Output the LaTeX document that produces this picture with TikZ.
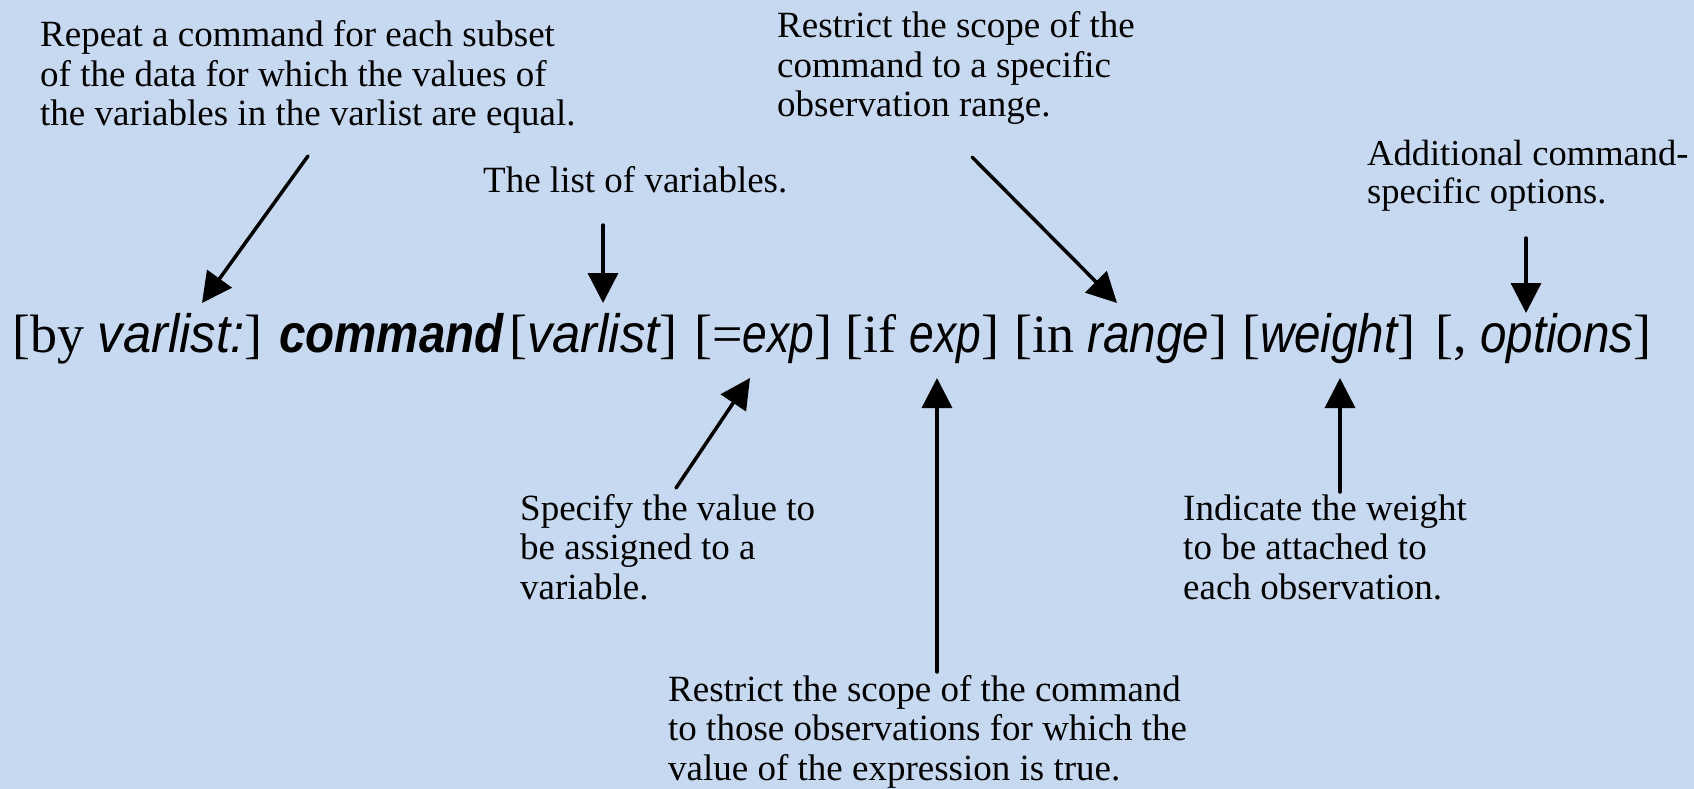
\documentclass[tikz,border=0pt]{standalone}
\usepackage{fontspec}
\setmainfont{Liberation Serif}
% condensed sans faces for the syntax elements
\newfontfamily\sansit{Liberation Sans}[FakeStretch=0.88]
\newfontfamily\sanswide{Liberation Sans}[FakeStretch=0.94]
\newfontfamily\sansnarrow{Liberation Sans}[FakeStretch=0.82]
\usetikzlibrary{arrows.meta}
\definecolor{panel}{RGB}{198,217,241}
\newcommand\synarg[1]{{\sansit\itshape #1}}
\newcommand\synvar[1]{{\sanswide\itshape #1}}
\newcommand\synexp[1]{{\sansnarrow\itshape #1}}
\newcommand\syncmd[1]{{\sansit\bfseries\itshape #1}}
\tikzset{
  % anchored at the baseline of the last line
  note/.style={inner sep=0pt, anchor=base west, align=left,
    font=\fontsize{37}{39.5}\selectfont},
  part/.style={inner sep=0pt, anchor=base west,
    font=\fontsize{54}{60}\selectfont},
  pointer/.style={line width=3.5pt, line cap=round,
    -{Triangle[length=30pt,width=30pt]}},
}
\begin{document}
\begin{tikzpicture}[x=1pt,y=-1pt]
  \fill[panel] (0,0) rectangle (1694,789);
  \useasboundingbox (0,0) rectangle (1694,789);

  % the command syntax line
  \node[part] (s1) at (12,352)   {[by \synvar{varlist:}]};
  \node[part] (s2) at (279,352)  {\syncmd{command}};
  \node[part] (s3) at (509,352)  {[\synvar{varlist}]};
  \node[part] (s4) at (694,352)  {[=\synexp{exp}]};
  \node[part] (s5) at (845,352)  {[if \synexp{exp}]};
  \node[part] (s6) at (1014,352) {[in \synarg{range}]};
  \node[part] (s7) at (1242,352) {[\synarg{weight}]};
  \node[part] (s8) at (1435,352) {[, \synarg{options}]};

  % explanations
  \node[note] (byNote) at (40,126) {Repeat a command for each subset\\of the data for which the values of\\the variables in the varlist are equal.};
  \node[note] (vlNote) at (483,192) {The list of variables.};
  \node[note] (rgNote) at (777,117) {Restrict the scope of the\\command to a specific\\observation range.};
  \node[note, font=\fontsize{36.5}{37.5}\selectfont] (opNote) at (1367,203) {Additional command-\\specific options.};
  \node[note] (exNote) at (520,599) {Specify the value to\\be assigned to a\\variable.};
  \node[note] (ifNote) at (668,780) {Restrict the scope of the command\\to those observations for which the\\value of the expression is true.};
  \node[note] (wNote) at (1183,599) {Indicate the weight\\to be attached to\\each observation.};

  % arrow ends
  \coordinate (byFrom) at (308,156);  \coordinate (byTip) at (202,303);
  \coordinate (vlFrom) at (603,225);  \coordinate (vlTip) at (603,303);
  \coordinate (rgFrom) at (972,157);  \coordinate (rgTip) at (1117,303);
  \coordinate (opFrom) at (1526,238); \coordinate (opTip) at (1526,313);
  \coordinate (exFrom) at (676,488);  \coordinate (exTip) at (750,378);
  \coordinate (ifFrom) at (937,672);  \coordinate (ifTip) at (937,378);
  \coordinate (wFrom) at (1340,492);  \coordinate (wTip) at (1340,378);

  \draw[pointer] (byFrom) -- (byTip);
  \draw[pointer] (vlFrom) -- (vlTip);
  \draw[pointer] (rgFrom) -- (rgTip);
  \draw[pointer] (opFrom) -- (opTip);
  \draw[pointer] (exFrom) -- (exTip);
  \draw[pointer] (ifFrom) -- (ifTip);
  \draw[pointer] (wFrom) -- (wTip);
\end{tikzpicture}
\end{document}
